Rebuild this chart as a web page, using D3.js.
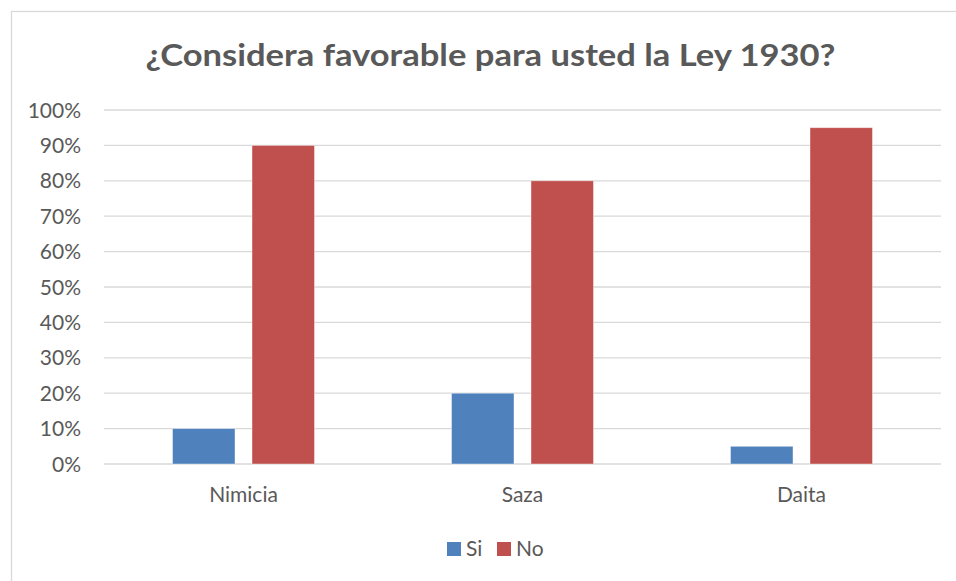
<!DOCTYPE html>
<html>
<head>
<meta charset="utf-8">
<script src="https://cdn.jsdelivr.net/npm/d3@7"></script>
<style>
  html, body { margin: 0; padding: 0; background: #fff; }
  svg { display: block; }
  text { font-family: Lato, "Open Sans", sans-serif; fill: #595959; }
</style>
</head>
<body>
<svg id="chart" width="956" height="581"></svg>
<script>
const title = "¿Considera favorable para usted la Ley 1930?";
const categories = ["Nimicia", "Saza", "Daita"];
const seriesNames = ["Si", "No"];
const siValues = [0.10, 0.20, 0.05];
const noValues = [0.90, 0.80, 0.95];
const yTicks = [0, 0.1, 0.2, 0.3, 0.4, 0.5, 0.6, 0.7, 0.8, 0.9, 1.0];
const colors = ["#4F81BD", "#C0504D"];

const data = categories.map((c, i) => ({ cat: c, values: [siValues[i], noValues[i]] }));

const svg = d3.select("#chart");

// outer border
svg.append("rect")
  .attr("x", 11.5).attr("y", 11.5)
  .attr("width", 980).attr("height", 620)
  .attr("fill", "#fff").attr("stroke", "#d9d9d9").attr("stroke-width", 1.3);

// title
svg.append("text")
  .attr("x", 490.5).attr("y", 66)
  .attr("text-anchor", "middle")
  .attr("font-size", 31).attr("font-weight", "bold")
  .attr("textLength", 690).attr("lengthAdjust", "spacingAndGlyphs")
  .text(title);

const x0 = d3.scaleBand().domain(categories).range([104, 941]).paddingInner(0).paddingOuter(0);
const x1 = d3.scaleBand().domain(seriesNames).range([0, x0.bandwidth()]).paddingInner(0.214).paddingOuter(0.862);
const y = d3.scaleLinear().domain([0, 1]).range([464, 110]);

// gridlines
svg.append("g")
  .selectAll("line")
  .data(yTicks)
  .join("line")
  .attr("x1", 104).attr("x2", 941)
  .attr("y1", d => y(d)).attr("y2", d => y(d))
  .attr("stroke", "#d9d9d9").attr("stroke-width", 1.3);

// y tick labels
svg.append("g")
  .selectAll("text")
  .data(yTicks)
  .join("text")
  .attr("x", 81).attr("y", d => y(d) + 7.5)
  .attr("text-anchor", "end")
  .attr("font-size", 21)
  .text(d => d3.format(".0%")(d));

// bars
const groups = svg.append("g")
  .selectAll("g")
  .data(data)
  .join("g")
  .attr("transform", d => `translate(${x0(d.cat)},0)`);

groups.selectAll("rect")
  .data(d => d.values.map((v, i) => ({ key: seriesNames[i], v, i })))
  .join("rect")
  .attr("x", d => x1(d.key))
  .attr("y", d => y(d.v))
  .attr("width", x1.bandwidth())
  .attr("height", d => y(0) - y(d.v))
  .attr("fill", d => colors[d.i])
  .attr("stroke", "#fff").attr("stroke-opacity", 0.5).attr("stroke-width", 0.8);

// category labels
svg.append("g")
  .selectAll("text")
  .data(categories)
  .join("text")
  .attr("x", d => x0(d) + x0.bandwidth() / 2)
  .attr("y", 502)
  .attr("text-anchor", "middle")
  .attr("font-size", 21)
  .text(d => d);

// legend
const legendItems = [
  { name: seriesNames[0], color: colors[0], sx: 447, tx: 466 },
  { name: seriesNames[1], color: colors[1], sx: 497, tx: 516 }
];
const lg = svg.append("g");
legendItems.forEach(it => {
  lg.append("rect").attr("x", it.sx).attr("y", 542).attr("width", 14).attr("height", 14).attr("fill", it.color);
  lg.append("text").attr("x", it.tx).attr("y", 556).attr("font-size", 21).text(it.name);
});
</script>
</body>
</html>
